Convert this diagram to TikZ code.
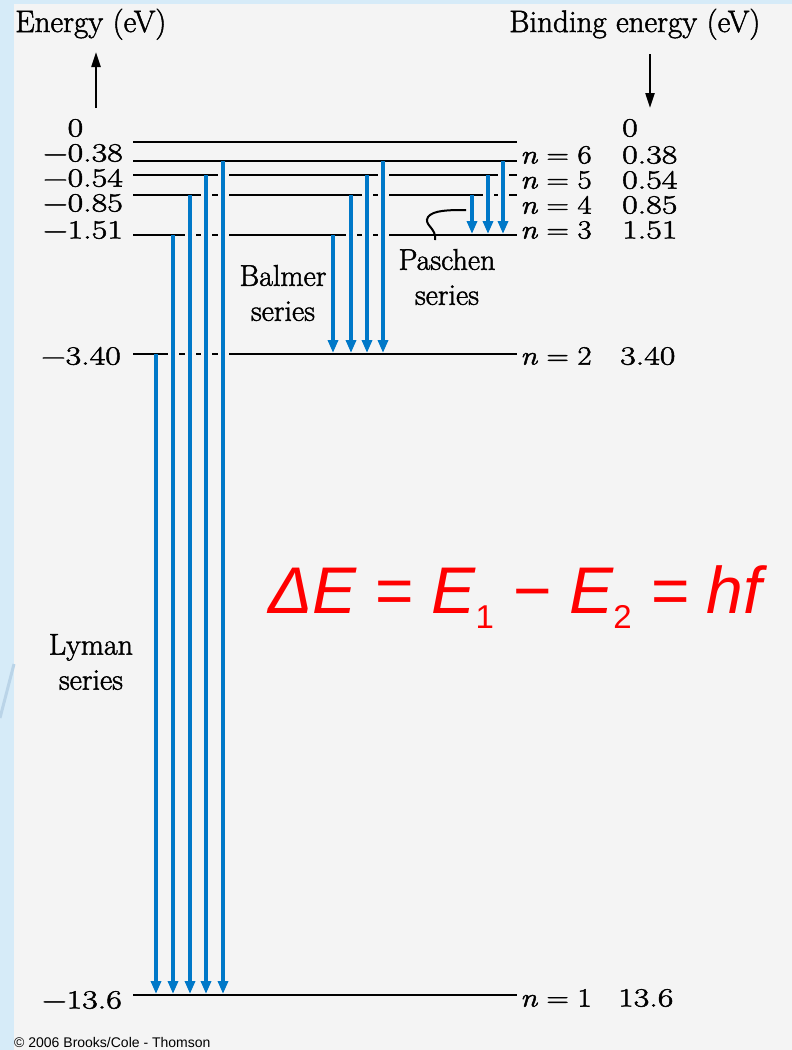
\documentclass[tikz,border=0pt]{standalone}
\usepackage{fontspec}
\usepackage{graphicx}
\setmainfont{Latin Modern Roman}[FakeBold=1.6]
\newfontfamily\eqfont{Liberation Sans}
\usetikzlibrary{arrows.meta,calc}
\definecolor{bgblue}{RGB}{214,235,248}
\definecolor{bggray}{RGB}{244,244,244}
\definecolor{arrblue}{RGB}{0,120,200}
\definecolor{diagblue}{RGB}{186,212,232}
\newcommand{\vsq}[1]{\scalebox{1.13}[0.88]{#1}}
\newcommand{\nlab}[1]{\scalebox{1.03}[0.88]{\textit{n}\hspace{0.28em}=\hspace{0.28em}#1}}
\begin{document}
\begin{tikzpicture}[x=1pt,y=-1pt,
  level/.style={line width=2.5pt,black},
  halo/.style={line width=11pt,bggray},
  trans/.style={line width=3.6pt,arrblue,-{Triangle[length=13pt,width=10pt]}},
  axisarrow/.style={line width=2.2pt,black,-{Triangle[length=15pt,width=9pt]}},
  numlbl/.style={inner sep=0pt,font=\fontsize{30}{30}\selectfont},
  txtlbl/.style={inner sep=0pt,font=\fontsize{30}{35}\selectfont,align=center},
  head/.style={inner sep=0pt,font=\fontsize{31}{31}\selectfont},
  pointer/.style={line width=2pt,black},
]
\useasboundingbox (0,0) rectangle (792,1050);
% background
\fill[bgblue] (0,0) rectangle (792,1050);
\fill[bggray] (14,4) rectangle (792,1050);
\draw[diagblue,line width=3pt] (0,718) -- (14,664);

% headings and axis arrows
\node[head,anchor=base west] (hE) at (15,32) {Energy (eV)};
\node[head,anchor=base west] (hB) at (509,32) {Binding energy (eV)};
\coordinate (upA) at (96,108);
\coordinate (upB) at (96,52);
\coordinate (dnA) at (650,54);
\coordinate (dnB) at (650,108);
\draw[axisarrow] (upA) -- (upB);
\draw[axisarrow] (dnA) -- (dnB);

% level coordinates
\foreach \n/\y in {0/142,6/161,5/175,4/195,3/235,2/354,1/995}{
  \coordinate (a\n) at (133,\y);
  \coordinate (b\n) at (517,\y);
}
\foreach \n in {0,1,2,3,4,5,6}{\draw[level] (a\n) -- (b\n);}

% transitions
\foreach \x in {156,173,190,206,223,333,351,367,383,472,488,503}{\coordinate (c\x) at (\x,0);}
\foreach \x/\s/\e in {156/2/1,173/3/1,190/4/1,206/5/1,223/6/1,333/3/2,351/4/2,367/5/2,383/6/2,472/4/3,488/5/3,503/6/3}{
  \draw[halo] ($(c\x |- a\s)+(0,4)$) -- ($(c\x |- a\e)+(0,-6)$);
}
\foreach \x/\s/\e in {156/2/1,173/3/1,190/4/1,206/5/1,223/6/1,333/3/2,351/4/2,367/5/2,383/6/2,472/4/3,488/5/3,503/6/3}{
  \draw[trans] (c\x |- a\s) -- ($(c\x |- a\e)+(0,-1)$);
}

% left energy labels
\node[numlbl,anchor=east] (e0) at (123,128) {\vsq{\phantom{−}0\phantom{.38}}};
\node[numlbl,anchor=east] (e6) at (123,153) {\vsq{−0.38}};
\node[numlbl,anchor=east] (e5) at (123,178) {\vsq{−0.54}};
\node[numlbl,anchor=east] (e4) at (123,203) {\vsq{−0.85}};
\node[numlbl,anchor=east] (e3) at (123,230) {\vsq{−1.51}};
\node[numlbl,anchor=east] (e2) at (121,356) {\vsq{−3.40}};
\node[numlbl,anchor=east] (e1) at (122,1000) {\vsq{−13.6}};

% right labels
\node[numlbl,anchor=west] (n6) at (520,155) {\nlab{6}};
\node[numlbl,anchor=west] (n5) at (520,180) {\nlab{5}};
\node[numlbl,anchor=west] (n4) at (520,205) {\nlab{4}};
\node[numlbl,anchor=west] (n3) at (520,230) {\nlab{3}};
\node[numlbl,anchor=west] (n2) at (520,356) {\nlab{2}};
\node[numlbl,anchor=west] (n1) at (520,998) {\nlab{1}};
\node[numlbl,anchor=west] (v0) at (622,128) {\vsq{0}};
\node[numlbl,anchor=west] (v6) at (622,155) {\vsq{0.38}};
\node[numlbl,anchor=west] (v5) at (622,180) {\vsq{0.54}};
\node[numlbl,anchor=west] (v4) at (622,205) {\vsq{0.85}};
\node[numlbl,anchor=west] (v3) at (622,230) {\vsq{1.51}};
\node[numlbl,anchor=west] (v2) at (620,356) {\vsq{3.40}};
\node[numlbl,anchor=west] (v1) at (618,998) {\vsq{13.6}};

% series labels
\node[txtlbl] (balmer) at (283,293) {Balmer\\series};
\node[txtlbl] (paschen) at (447,277) {Paschen\\series};
\node[txtlbl] (lyman) at (91,662) {Lyman\\series};

% Paschen pointer
\coordinate (pp1) at (435,240);
\coordinate (pp2) at (466,210);
\draw[pointer] (pp1) .. controls (437,228) and (423,225) .. (428,217) .. controls (433,210) and (450,210) .. (pp2);

% equation
\node[inner sep=0pt,anchor=base west,text=red,font=\eqfont\itshape\fontsize{66}{66}\selectfont] (eq) at (268,613)
  {ΔE = E\raisebox{-15pt}{\upshape\fontsize{33}{33}\selectfont 1} − E\raisebox{-15pt}{\upshape\fontsize{33}{33}\selectfont 2} = hf};

% copyright
\node[inner sep=0pt,anchor=base west,font=\eqfont\fontsize{14}{14}\selectfont] (copy) at (14,1047) {© 2006 Brooks/Cole - Thomson};
\end{tikzpicture}
\end{document}
